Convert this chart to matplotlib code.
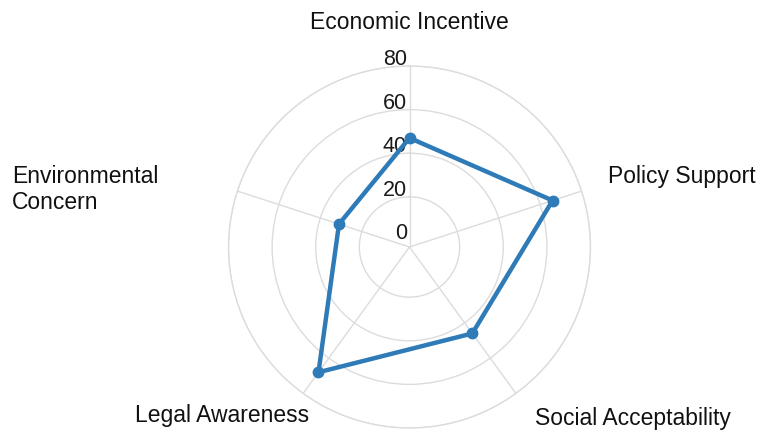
import numpy as np
import matplotlib
matplotlib.use("Agg")
import matplotlib.pyplot as plt
import matplotlib.transforms as mtransforms

categories = ["Economic Incentive", "Policy Support", "Social Acceptability",
              "Legal Awareness", "Environmental\nConcern"]
values = [47, 66, 46, 68, 31]
r_ticks = [0, 20, 40, 60, 80]
r_tick_labels = ["0", "20", "40", "60", "80"]

plt.rcParams['font.family'] = ['Liberation Sans', 'DejaVu Sans']

W, H = 761, 432
fig = plt.figure(figsize=(W / 100, H / 100), dpi=100)
cx, cy, R = 409.5, 247.0, 181.0
ax = fig.add_axes([(cx - R) / W, (H - cy - R) / H, 2 * R / W, 2 * R / H], projection='polar')
ax.set_theta_offset(np.pi / 2)
ax.set_theta_direction(-1)

n = len(categories)
angles = np.arange(n) * 2 * np.pi / n
ax.set_ylim(-3, 80)
ax.set_xticks(angles)
ax.set_xticklabels([])
ax.set_yticks(r_ticks[1:])
ax.set_yticklabels([])
ax.grid(True, color='#dcdcdc', linewidth=1.0)
ax.spines['polar'].set_color('#dcdcdc')
ax.spines['polar'].set_linewidth(1.0)
ax.tick_params(length=0)

# radial tick labels along top axis
off = mtransforms.offset_copy(ax.transData, fig=fig, x=-2.5, y=6.5, units='dots')
for v, lab in zip(r_ticks, r_tick_labels):
    ax.text(0, v, lab, transform=off, ha='right', va='center', fontsize=15.5,
            color='#1a1a1a', zorder=1)

closed_a = np.concatenate([angles, angles[:1]])
closed_v = np.concatenate([values, values[:1]])
ax.plot(closed_a, closed_v, color='#2e7bb8', linewidth=3.2, zorder=5,
        solid_joinstyle='round', clip_on=False)
ax.plot(angles, values, 'o', color='#2e7bb8', markersize=7.5, zorder=6, clip_on=False)

# category labels
label_pos = [
    (0.5, 1.1215, 'center'),
    (1.048, 0.696, 'left'),
    (1.116, 0.0276, 'center'),
    (-0.0166, 0.0359, 'center'),
    (-0.598, 0.659, 'left'),
]
for lab, (x, y, ha) in zip(categories, label_pos):
    ax.text(x, y, lab, transform=ax.transAxes, ha=ha, va='center', fontsize=16.5,
            color='#111111', multialignment='left', linespacing=1.15, clip_on=False)

fig.savefig("out.png", dpi=100)
